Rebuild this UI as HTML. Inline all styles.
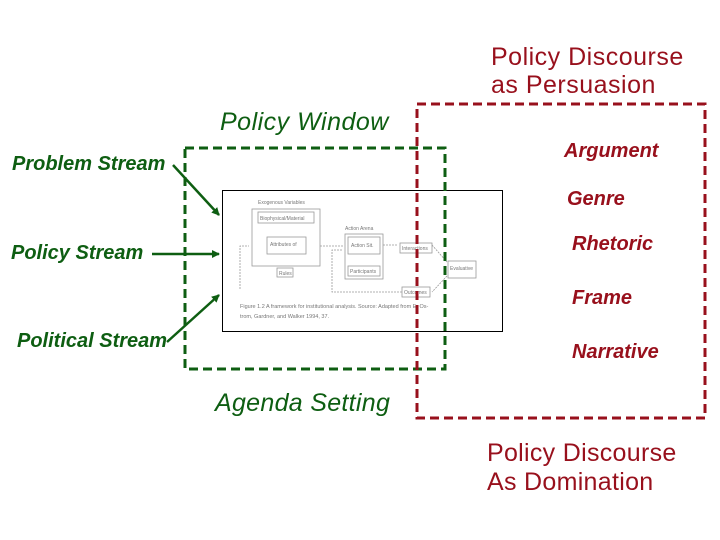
<!DOCTYPE html>
<html><head><meta charset="utf-8"><style>
html,body{margin:0;padding:0;background:#fff;width:720px;height:540px;overflow:hidden}
svg text{font-family:"Liberation Sans",Arial,sans-serif}
</style></head><body>
<svg width="720" height="540" viewBox="0 0 720 540" xmlns="http://www.w3.org/2000/svg">
<defs><marker id="a" markerWidth="8" markerHeight="8" refX="7" refY="4" orient="auto" markerUnits="userSpaceOnUse"><path d="M0,0 L8,4 L0,8z" fill="#0e5e12"/></marker></defs>
<rect x="222.5" y="190.5" width="280" height="141" fill="#fff" stroke="#000" stroke-width="1"/>
<g fill="none" stroke="#999" stroke-width="0.8">
<rect x="252" y="209" width="68" height="57"/><rect x="258" y="212" width="56" height="11"/>
<rect x="267" y="237" width="39" height="17"/><rect x="277" y="268" width="16" height="9"/>
<rect x="345" y="234" width="38" height="45"/><rect x="348" y="237" width="32" height="17"/>
<rect x="348" y="266" width="32" height="10"/><rect x="400" y="243" width="32" height="10"/>
<rect x="448" y="261" width="28" height="17"/><rect x="402" y="287" width="28" height="10"/>
<path d="M240,289 L240,246 L249,246 M320,246 L343,246 M383,245 L398,245 M432,245 L447,262 M447,276 L432,292 M402,292 L332,292 L332,250 L343,250" stroke-dasharray="2,1"/>
</g>
<g font-size="5" fill="#777" font-family="Liberation Serif">
<text x="258" y="204">Exogenous Variables</text><text x="345" y="230">Action Arena</text>
<text x="260" y="220">Biophysical/Material</text><text x="270" y="246">Attributes of</text>
<text x="279" y="275">Rules</text><text x="351" y="247">Action Sit.</text><text x="350" y="273">Participants</text>
<text x="402" y="250">Interactions</text><text x="450" y="270">Evaluative</text><text x="404" y="294">Outcomes</text>
<text x="240" y="308" font-size="5.5">Figure 1.2 A framework for institutional analysis. Source: Adapted from E. Os-</text>
<text x="240" y="318" font-size="5.5">trom, Gardner, and Walker 1994, 37.</text>
</g>
<rect x="185" y="148" width="260" height="221" fill="none" stroke="#0e5e12" stroke-width="3" stroke-dasharray="9,5"/>
<rect x="417" y="104" width="288" height="314" fill="none" stroke="#98101c" stroke-width="3" stroke-dasharray="9,5"/>
<g stroke="#0e5e12" stroke-width="2.5" fill="none">
<line x1="173" y1="165" x2="219" y2="215" marker-end="url(#a)"/>
<line x1="152" y1="254" x2="219" y2="254" marker-end="url(#a)"/>
<line x1="167" y1="342" x2="219" y2="295" marker-end="url(#a)"/>
</g>
<g fill="#0e5e12" font-style="italic">
<text x="220" y="130" font-size="25" letter-spacing="0.5">Policy Window</text>
<text x="12" y="170" font-size="20" font-weight="bold">Problem Stream</text>
<text x="11" y="259" font-size="20" font-weight="bold">Policy Stream</text>
<text x="17" y="347" font-size="20" font-weight="bold">Political Stream</text>
<text x="215" y="411" font-size="25" letter-spacing="0.3">Agenda Setting</text>
</g>
<g fill="#98101c">
<text x="491" y="65" font-size="25" letter-spacing="0.5">Policy Discourse</text>
<text x="491" y="93" font-size="25" letter-spacing="0.5">as Persuasion</text>
<text x="487" y="461" font-size="25" letter-spacing="0.3">Policy Discourse</text>
<text x="487" y="490" font-size="25" letter-spacing="0.3">As Domination</text>
<g font-style="italic" font-weight="bold" font-size="20">
<text x="564" y="157">Argument</text>
<text x="567" y="205">Genre</text>
<text x="572" y="250">Rhetoric</text>
<text x="572" y="304">Frame</text>
<text x="572" y="358">Narrative</text>
</g></g>
</svg>
</body></html>
